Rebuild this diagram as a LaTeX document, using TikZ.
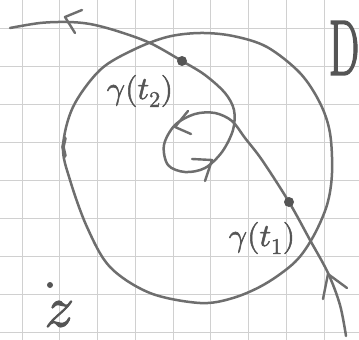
\documentclass[tikz,border=0pt]{standalone}
\usepackage{amsmath}
\usepackage{fontspec}
\usepackage{unicode-math}
\setmathfont{Latin Modern Math}[FakeBold=1.6]
\newfontfamily\handfont{Latin Modern Roman}[FakeBold=2.5]
\usepackage{tikz}
\usetikzlibrary{positioning}
\definecolor{pencil}{HTML}{6E6E6E}
\definecolor{ink}{HTML}{555555}
\definecolor{gridline}{HTML}{D0D0D0}

\begin{document}
\begin{tikzpicture}[x=1pt,y=-1pt,
  curve/.style={pencil,line width=2.5pt,line cap=round,line join=round},
  barb/.style={pencil,line width=2.4pt,line cap=round,line join=round},
  blob/.style={circle,fill=ink,inner sep=0pt,minimum size=#1},
  lbl/.style={ink,inner sep=0pt,font=\fontsize{32}{36}\selectfont}]
\useasboundingbox (0,0) rectangle (359,340);
\fill[white] (0,0) rectangle (359,340);
% squared paper
\foreach \x in {0,...,8}
  \draw[gridline,line width=0.9pt] ({22+37.75*\x},0) -- ({22+37.75*\x},340);
\foreach \y in {0,...,8}
  \draw[gridline,line width=0.9pt] (0,{28.5+38*\y}) -- (359,{28.5+38*\y});

% the region D
\draw[curve] plot[smooth cycle,tension=0.55] coordinates {
  (200,33) (233,36) (267,47) (300,73) (320,103) (330,133) (332,173)
  (327,205) (313,237) (295,262) (265,284) (233,298) (200,303)
  (150,293) (110,267) (87,227) (70,180) (63,147) (73,107) (100,70)
  (133,50) (167,37)};
\draw[curve,line width=3.6pt] (65,138) -- (63,147) -- (65,156);

% the path gamma
\draw[curve] plot[smooth,tension=0.55] coordinates {
  (346,336) (340,305) (328,273) (310,240) (289,202) (262,160)
  (245,138) (232,121) (215,113) (195,114) (175,125) (164,145)
  (168,165) (185,172) (205,168) (222,152) (233,130) (234,110)
  (225,93) (205,75) (182,61) (150,43) (117,31) (90,24) (67,22)
  (40,23) (10,28)};

% direction marks
\draw[barb] (82,10) -- (65,17) -- (75,33);
\draw[barb] (323,299) -- (328,274) -- (347,288);
\draw[barb] (188,111) -- (175,127) -- (191,134);
\draw[barb] (192,159) -- (212,160) -- (205,181);

% points and labels
\node[blob=10pt] (gt2) at (182,61) {};
\node[blob=10pt] (gt1) at (289,202) {};
\node[blob=6pt] (zpt) at (50,285) {};
\node[lbl] (lgt2) at (140,91) {$\gamma(t_2)$};
\node[lbl] (lgt1) at (262,238) {$\gamma(t_1)$};
\node[lbl,font=\fontsize{58}{60}\selectfont] (lz) at (59,314) {$z$};
\node[lbl] (lD) at (344,48) {\scalebox{0.55}[1.0]{\fontsize{78}{80}\selectfont\handfont D}};
\end{tikzpicture}
\end{document}
